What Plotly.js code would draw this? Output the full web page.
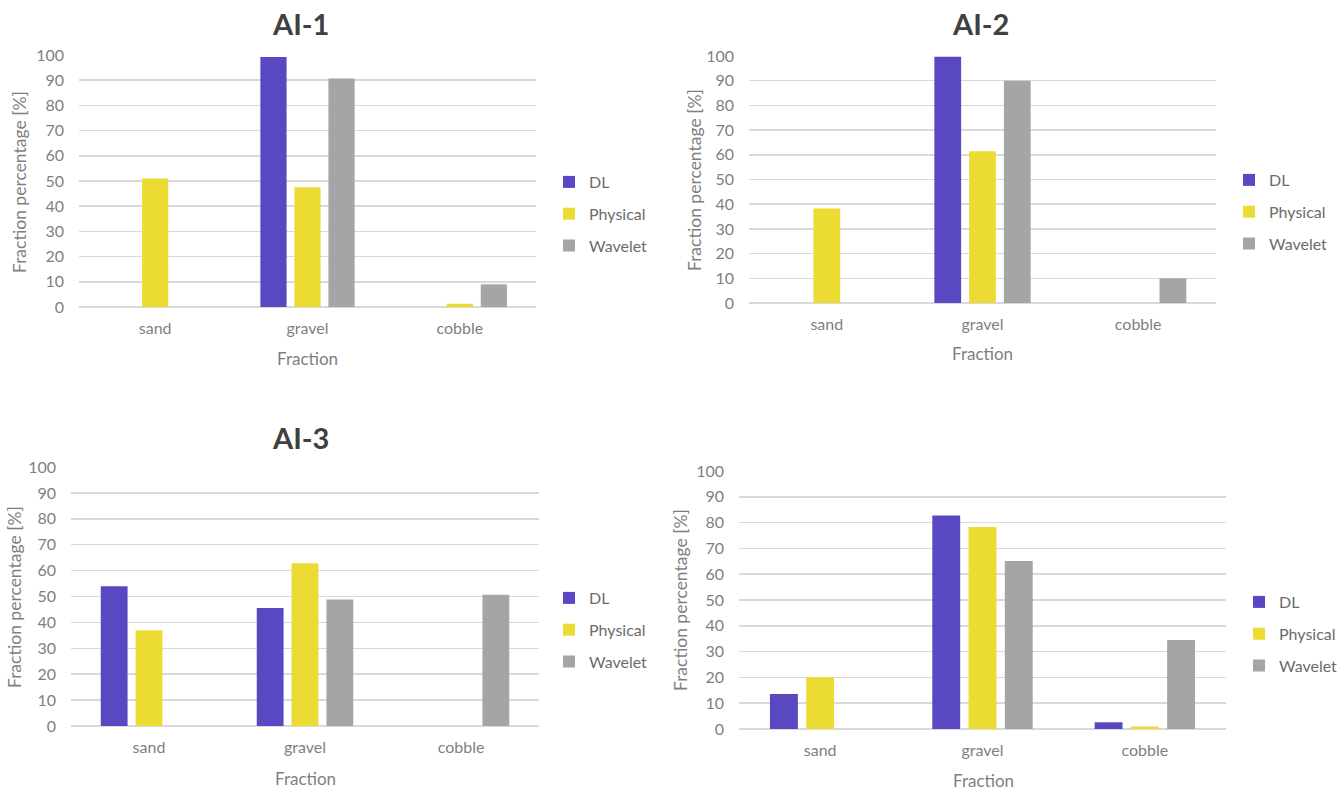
<!DOCTYPE html>
<html>
<head>
<meta charset="utf-8">
<script src="https://cdn.plot.ly/plotly-3.0.1.min.js"></script>
<style>
  html, body { margin: 0; padding: 0; background: #ffffff; }
  #chart { width: 1344px; height: 794px; }
</style>
</head>
<body>
<div id="chart"></div>
<script>
// Grain-size fractions (%) per method for four sites
const categories = ['sand', 'gravel', 'cobble'];
const seriesNames = ['DL', 'Physical', 'Wavelet'];
const panelTitles = ['AI-1', 'AI-2', 'AI-3', ''];
const yTicks = [0, 10, 20, 30, 40, 50, 60, 70, 80, 90, 100];

const ai1DL       = [0, 99.2, 0];
const ai1Physical = [51, 47.5, 1.3];
const ai1Wavelet  = [0, 90.7, 9];

const ai2DL       = [0, 99.7, 0];
const ai2Physical = [38.3, 61.4, 0];
const ai2Wavelet  = [0, 90, 10];

const ai3DL       = [54, 45.6, 0];
const ai3Physical = [37, 62.8, 0];
const ai3Wavelet  = [0, 48.8, 50.7];

const ai4DL       = [13.6, 82.8, 2.6];
const ai4Physical = [20.1, 78.3, 1];
const ai4Wavelet  = [0, 65.1, 34.5];

const panelData = [
  [ai1DL, ai1Physical, ai1Wavelet],
  [ai2DL, ai2Physical, ai2Wavelet],
  [ai3DL, ai3Physical, ai3Wavelet],
  [ai4DL, ai4Physical, ai4Wavelet]
];

const seriesColors = ['#5849c2', '#ecdb33', '#a5a5a5'];

const W = 1344, H = 794;
const FONT = 'Lato, "Open Sans", sans-serif';
const px = v => v / W;
const py = v => 1 - v / H;

// plot frames in page pixels
const frames = [
  { l: 79,  r: 536,  t: 55,  b: 307, title: [300, 24],  ytitle: [20, 182],  xtitle: [307, 358], legX: 549,  legY: 214 },
  { l: 749, r: 1216, t: 56,  b: 303, title: [980, 24],  ytitle: [694, 180], xtitle: [982, 353], legX: 1229, legY: 212 },
  { l: 71,  r: 539,  t: 467, b: 726, title: [300, 437], ytitle: [14, 597],  xtitle: [305, 778], legX: 549,  legY: 630 },
  { l: 739, r: 1226, t: 471, b: 729, title: null,       ytitle: [680, 600], xtitle: [984, 780], legX: 1239, legY: 634 }
];

const traces = [];
const layout = {
  width: W, height: H,
  margin: { l: 0, r: 0, t: 0, b: 0 },
  paper_bgcolor: '#ffffff',
  plot_bgcolor: '#ffffff',
  barmode: 'group',
  bargap: 0.33,
  bargroupgap: 0.23,
  font: { family: FONT, color: '#7f7f7f', size: 16 },
  annotations: []
};

frames.forEach((f, i) => {
  const n = i === 0 ? '' : String(i + 1);
  const legName = 'legend' + n;
  panelData[i].forEach((vals, s) => {
    traces.push({
      type: 'bar',
      x: categories,
      y: vals,
      name: seriesNames[s],
      xaxis: 'x' + n,
      yaxis: 'y' + n,
      legend: legName,
      legendgroup: 'g' + i + '_' + s,
      marker: { color: seriesColors[s], line: { width: 0 } },
      hoverinfo: 'x+y+name'
    });
  });

  layout['xaxis' + n] = {
    domain: [px(f.l), px(f.r)],
    anchor: 'y' + n,
    type: 'category',
    showgrid: false,
    showline: false,
    zeroline: false,
    ticks: '',
    ticklabelstandoff: 10,
    tickfont: { family: FONT, size: 16, color: '#7f7f7f' },
    fixedrange: true
  };
  layout['yaxis' + n] = {
    domain: [py(f.b), py(f.t)],
    anchor: 'x' + n,
    range: [0, 100],
    tickvals: yTicks,
    showgrid: true,
    gridcolor: '#d9d9d9',
    gridwidth: 1.5,
    zeroline: true,
    zerolinecolor: '#d9d9d9',
    zerolinewidth: 1.5,
    showline: false,
    ticks: '',
    ticklabelstandoff: 14,
    tickfont: { family: FONT, size: 16, color: '#7f7f7f' },
    fixedrange: true
  };
  layout[legName] = {
    x: px(f.legX), xanchor: 'left',
    y: py(f.legY), yanchor: 'middle',
    font: { family: FONT, size: 16, color: '#6b6b6b' },
    bgcolor: 'rgba(0,0,0,0)',
    traceorder: 'grouped',
    tracegroupgap: 8
  };

  if (panelTitles[i]) {
    layout.annotations.push({
      text: '<b>' + panelTitles[i] + '</b>',
      xref: 'paper', yref: 'paper',
      x: px(f.title[0]), y: py(f.title[1]),
      xanchor: 'center', yanchor: 'middle',
      showarrow: false,
      font: { family: FONT, size: 29, color: '#404040' }
    });
  }
  layout.annotations.push({
    text: 'Fraction percentage [%]',
    xref: 'paper', yref: 'paper',
    x: px(f.ytitle[0]), y: py(f.ytitle[1]),
    xanchor: 'center', yanchor: 'middle',
    textangle: -90,
    showarrow: false,
    font: { family: FONT, size: 17.5, color: '#7f7f7f' }
  });
  layout.annotations.push({
    text: 'Fraction',
    xref: 'paper', yref: 'paper',
    x: px(f.xtitle[0]), y: py(f.xtitle[1]),
    xanchor: 'center', yanchor: 'middle',
    showarrow: false,
    font: { family: FONT, size: 17, color: '#7f7f7f' }
  });
});

Plotly.newPlot('chart', traces, layout, { staticPlot: true, displayModeBar: false });
</script>
</body>
</html>
